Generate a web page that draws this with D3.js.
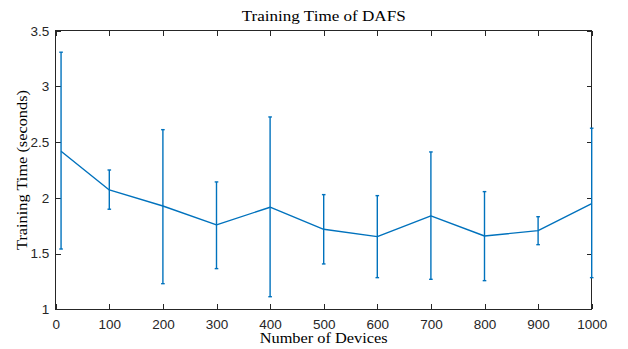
<!DOCTYPE html>
<html>
<head>
<meta charset="utf-8">
<script src="https://cdn.jsdelivr.net/npm/d3@7"></script>
<style>
  html, body { margin: 0; padding: 0; background: #fff; }
  svg { display: block; }
</style>
</head>
<body>
<svg id="chart" width="628" height="349"></svg>
<script>
// Data
const devices = [10, 100, 200, 300, 400, 500, 600, 700, 800, 900, 1000];
const meanTime = [2.418, 2.071, 1.927, 1.757, 1.916, 1.718, 1.652, 1.838, 1.658, 1.706, 1.948];
const upperTime = [3.307, 2.250, 2.612, 2.143, 2.726, 2.029, 2.020, 2.412, 2.056, 1.831, 2.625];
const lowerTime = [1.541, 1.898, 1.230, 1.365, 1.113, 1.407, 1.284, 1.269, 1.257, 1.580, 1.284];
const xTicks = [0, 100, 200, 300, 400, 500, 600, 700, 800, 900, 1000];
const yTicks = [1, 1.5, 2, 2.5, 3, 3.5];
const titleText = "Training Time of DAFS";
const xLabelText = "Number of Devices";
const yLabelText = "Training Time (seconds)";

const svg = d3.select("#chart");
const L = 55.7, R = 591.7, T = 30.7, B = 309.3;
const x = d3.scaleLinear().domain([0, 1000]).range([L, R]);
const y = d3.scaleLinear().domain([1, 3.5]).range([B, T]);

const axisColor = "#262626";
const lineColor = "#0072BD";
const serif = "'Liberation Serif', 'Times New Roman', serif";
const sans = "'Liberation Sans', Arial, Helvetica, sans-serif";
const tickFont = 13.5;

// Box
svg.append("rect").attr("x", L).attr("y", T).attr("width", R - L).attr("height", B - T)
  .attr("fill", "none").attr("stroke", axisColor).attr("stroke-width", 1).attr("shape-rendering", "crispEdges");

const tickLen = 5;
const gBottom = svg.append("g").attr("transform", `translate(0,${B})`)
  .call(d3.axisBottom(x).tickValues(xTicks).tickSizeInner(-tickLen).tickSizeOuter(0).tickPadding(9.8).tickFormat(d3.format("d")));
const gTop = svg.append("g").attr("transform", `translate(0,${T})`)
  .call(d3.axisTop(x).tickValues(xTicks).tickSizeInner(-tickLen).tickSizeOuter(0).tickFormat(""));
const gLeft = svg.append("g").attr("transform", `translate(${L},0)`)
  .call(d3.axisLeft(y).tickValues(yTicks).tickSizeInner(-tickLen).tickSizeOuter(0).tickPadding(6.5).tickFormat(d => String(d)));
const gRight = svg.append("g").attr("transform", `translate(${R},0)`)
  .call(d3.axisRight(y).tickValues(yTicks).tickSizeInner(-tickLen).tickSizeOuter(0).tickFormat(""));

[gBottom, gTop, gLeft, gRight].forEach(g => {
  g.select(".domain").remove();
  g.selectAll(".tick line").attr("stroke", axisColor).attr("stroke-width", 1).attr("shape-rendering", "crispEdges");
  g.selectAll(".tick text").attr("fill", axisColor).attr("font-family", sans).attr("font-size", tickFont);
});

// Error bars
const capW = 1.8;
const eb = svg.append("g").attr("stroke", lineColor).attr("stroke-width", 1.4).attr("fill", "none");
devices.forEach((d, i) => {
  const cx = x(d);
  eb.append("line").attr("x1", cx).attr("x2", cx).attr("y1", y(upperTime[i])).attr("y2", y(lowerTime[i]));
  eb.append("line").attr("x1", cx - capW).attr("x2", cx + capW).attr("y1", y(upperTime[i])).attr("y2", y(upperTime[i]));
  eb.append("line").attr("x1", cx - capW).attr("x2", cx + capW).attr("y1", y(lowerTime[i])).attr("y2", y(lowerTime[i]));
});

// Mean line
const line = d3.line().x((d, i) => x(devices[i])).y(d => y(d));
svg.append("path").datum(meanTime).attr("d", line).attr("fill", "none")
  .attr("stroke", lineColor).attr("stroke-width", 1.4).attr("stroke-linejoin", "round");

// Labels (Times-like glyphs stretched to the wider Computer Modern widths)
function label(sel, fs, width) {
  return sel.attr("font-family", serif).attr("font-size", fs).attr("fill", "#000")
    .attr("textLength", width).attr("lengthAdjust", "spacingAndGlyphs");
}
label(svg.append("text").attr("x", (L + R) / 2).attr("y", 20.7).attr("text-anchor", "middle").text(titleText), 15, 164);
label(svg.append("text").attr("x", (L + R) / 2).attr("y", 343.3).attr("text-anchor", "middle").text(xLabelText), 14, 128);
label(svg.append("text").attr("transform", `translate(26.5,${(T + B) / 2}) rotate(-90)`).attr("text-anchor", "middle").text(yLabelText), 14, 160);
</script>
</body>
</html>
